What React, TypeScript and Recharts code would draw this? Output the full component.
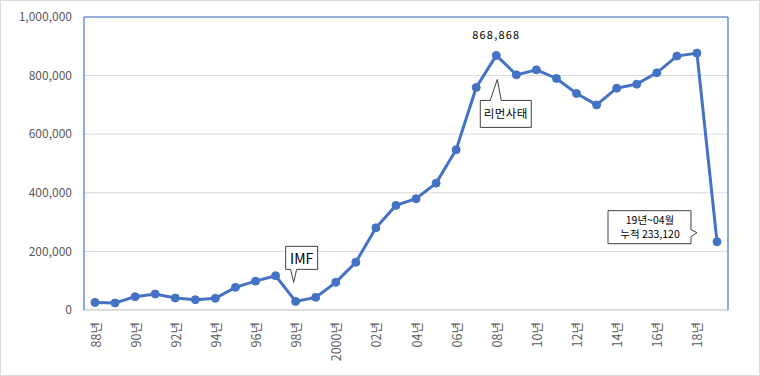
import React from 'react';
import {
  LineChart, Line, XAxis, YAxis, CartesianGrid, ReferenceDot,
} from 'recharts';

const categories = [
  '88년', '89년', '90년', '91년', '92년', '93년', '94년', '95년', '96년', '97년', '98년', '99년',
  '2000년', '01년', '02년', '03년', '04년', '05년', '06년', '07년', '08년', '09년',
  '10년', '11년', '12년', '13년', '14년', '15년', '16년', '17년', '18년', '19년',
];

const values = [
  26000, 24000, 45500, 54700, 41000, 35200, 39700, 77300, 98500, 117000, 29400, 43100,
  94400, 163000, 280500, 357000, 379700, 433000, 547000, 759500, 868868, 802600,
  819700, 790300, 739000, 700000, 757000, 770800, 809500, 866600, 876800, 233120,
];

const yTicks = [0, 200000, 400000, 600000, 800000, 1000000];

const peakLabel = '868,868';
const lehmanLabel = '리먼사태';
const imfLabel = 'IMF';
const lastLabel1 = '19년~04월';
const lastLabel2 = '누적 233,120';

const data = categories.map((c, i) => ({ name: c, v: values[i] }));

const FONT = '"Noto Sans CJK KR", "Noto Sans", sans-serif';
const BLUE = '#4472C4';
const BOX = '#404040';

const XTick = (props: any) => {
  const { x, y, payload } = props;
  return (
    <text
      x={x}
      y={y}
      transform={`rotate(-90, ${x}, ${y})`}
      textAnchor="end"
      dominantBaseline="central"
      fontSize={12.5}
      fontFamily={FONT}
      fill="#595959"
    >
      {payload.value}
    </text>
  );
};

const fmt = (v: number) => v.toLocaleString('en-US');

const PeakCallout = (p: any) => {
  const { cx, cy } = p;
  if (cx == null || cy == null) return null;
  return (
    <g>
      <text x={cx} y={cy - 16} textAnchor="middle" fontSize={11} letterSpacing={1.2} fontFamily={FONT} fill="#000">
        {peakLabel}
      </text>
      <path
        d={`M ${cx - 16} ${cy + 45} L ${cx - 6} ${cy + 45} L ${cx + 1} ${cy + 24} L ${cx + 5} ${cy + 45} L ${cx + 35} ${cy + 45} L ${cx + 35} ${cy + 72} L ${cx - 16} ${cy + 72} Z`}
        fill="#fff"
        stroke={BOX}
        strokeWidth={1}
      />
      <text x={cx + 9.5} y={cy + 63} textAnchor="middle" fontSize={11.5} letterSpacing={0.5} fontFamily={FONT} fill="#000">
        {lehmanLabel}
      </text>
    </g>
  );
};

const ImfCallout = (p: any) => {
  const { cx, cy } = p;
  if (cx == null || cy == null) return null;
  return (
    <g>
      <path
        d={`M ${cx - 10} ${cy - 55} L ${cx + 22} ${cy - 55} L ${cx + 22} ${cy - 32} L ${cx + 1} ${cy - 32} L ${cx - 2} ${cy - 19} L ${cx - 5} ${cy - 32} L ${cx - 10} ${cy - 32} Z`}
        fill="#fff"
        stroke={BOX}
        strokeWidth={1}
      />
      <text x={cx + 6} y={cy - 37} textAnchor="middle" fontSize={14} fontFamily={FONT} fill="#000">
        {imfLabel}
      </text>
    </g>
  );
};

const LastCallout = (p: any) => {
  const { cx, cy } = p;
  if (cx == null || cy == null) return null;
  return (
    <g>
      <path
        d={`M ${cx - 109} ${cy - 31} L ${cx - 26} ${cy - 31} L ${cx - 26} ${cy - 12} L ${cx - 20} ${cy - 9} L ${cx - 26} ${cy - 5} L ${cx - 26} ${cy + 2} L ${cx - 109} ${cy + 2} Z`}
        fill="#fff"
        stroke={BOX}
        strokeWidth={1}
      />
      <text x={cx - 67} y={cy - 18} textAnchor="middle" fontSize={10.5} fontFamily={FONT} fill="#000">
        {lastLabel1}
      </text>
      <text x={cx - 67} y={cy - 4} textAnchor="middle" fontSize={10.5} fontFamily={FONT} fill="#000">
        {lastLabel2}
      </text>
    </g>
  );
};

export default function App() {
  return (
    <div style={{ position: 'absolute', left: 0, top: 0, width: 760, height: 376, background: '#fff' }}>
      <LineChart
        width={760}
        height={376}
        data={data}
        margin={{ top: 16, right: 31, bottom: 0, left: 0 }}
      >
        <CartesianGrid vertical={false} stroke="#d9d9d9" strokeWidth={1} />
        <XAxis
          dataKey="name"
          interval={1}
          padding={{ left: 11, right: 11 }}
          height={66}
          tickLine={false}
          tickSize={0}
          tickMargin={12}
          axisLine={{ stroke: '#d9d9d9', strokeWidth: 1.5 }}
          tick={<XTick />}
        />
        <XAxis
          xAxisId="top"
          orientation="top"
          dataKey="name"
          height={1}
          tick={false}
          tickLine={false}
          axisLine={{ stroke: BLUE, strokeWidth: 1.2 }}
        />
        <YAxis
          width={84}
          domain={[0, 1000000]}
          ticks={yTicks}
          tickFormatter={fmt}
          tickLine={false}
          tickSize={0}
          tickMargin={12}
          axisLine={{ stroke: BLUE, strokeWidth: 1.2 }}
          tick={{ fontSize: 12, fill: '#595959', fontFamily: FONT }}
        />
        <YAxis
          yAxisId="right"
          orientation="right"
          width={1}
          domain={[0, 1000000]}
          tick={false}
          tickLine={false}
          axisLine={{ stroke: BLUE, strokeWidth: 1.2 }}
        />
        <Line
          type="linear"
          dataKey="v"
          stroke={BLUE}
          strokeWidth={3}
          dot={{ r: 4, fill: BLUE, stroke: BLUE, strokeWidth: 1 }}
          isAnimationActive={false}
        />
        <ReferenceDot x="08년" y={868868} r={0} shape={(p: any) => <PeakCallout {...p} />} />
        <ReferenceDot x="98년" y={29400} r={0} shape={(p: any) => <ImfCallout {...p} />} />
        <ReferenceDot x="19년" y={233120} r={0} shape={(p: any) => <LastCallout {...p} />} />
      </LineChart>
      <div
        style={{
          position: 'absolute', left: 0, top: 0, width: 760, height: 376,
          border: '1px solid #d9d9d9', boxSizing: 'border-box', pointerEvents: 'none',
        }}
      />
    </div>
  );
}
